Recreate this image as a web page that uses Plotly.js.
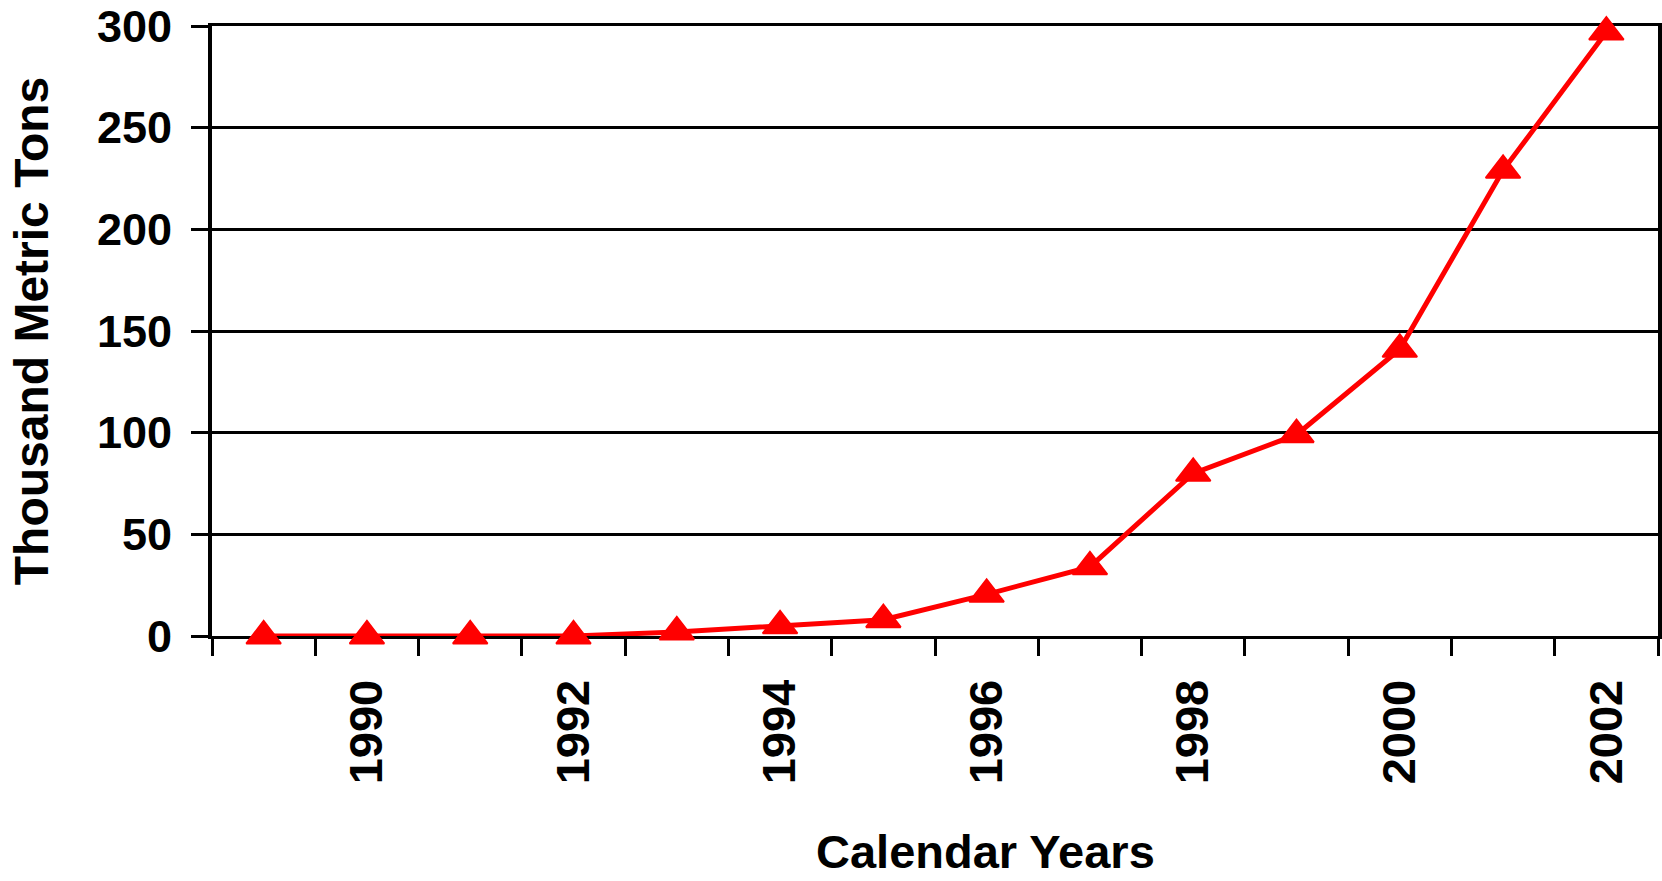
<!DOCTYPE html>
<html>
<head>
<meta charset="utf-8">
<script src="https://cdn.plot.ly/plotly-3.0.1.min.js"></script>
<style>html,body{margin:0;padding:0;background:#fff;}#chart{width:1662px;height:881px;}</style>
</head>
<body>
<div id="chart"></div>
<script>
// Data
const years = [1989, 1990, 1991, 1992, 1993, 1994, 1995, 1996, 1997, 1998, 1999, 2000, 2001, 2002];
const tons = [0, 0, 0, 0, 2, 5, 8, 20.5, 34, 80, 99, 141, 229, 297];
const labelYears = [1990, 1992, 1994, 1996, 1998, 2000, 2002];
const labelText = labelYears.map(String);
const yTicks = [0, 50, 100, 150, 200, 250, 300];
const xTitle = 'Calendar Years';
const yTitle = 'Thousand Metric Tons';

const boundaries = years.map(y => y - 0.5).concat([years[years.length - 1] + 0.5]);
const FONT = 'Liberation Sans, Arial, sans-serif';

const trace = {
  x: years,
  y: tons,
  type: 'scatter',
  mode: 'lines+markers',
  cliponaxis: false,
  line: {color: '#FF0000', width: 5},
  marker: {symbol: 'triangle-up', size: 30, color: '#FF0000', line: {color: '#FF0000', width: 2}},
  hoverinfo: 'x+y',
  showlegend: false
};

const layout = {
  width: 1662,
  height: 881,
  margin: {l: 212, r: 4, t: 26, b: 245},
  paper_bgcolor: '#ffffff',
  plot_bgcolor: '#ffffff',
  font: {family: FONT, color: '#000', size: 44},
  xaxis: {
    type: 'linear',
    range: [boundaries[0], boundaries[boundaries.length - 1]],
    tickmode: 'array',
    tickvals: labelYears,
    ticktext: labelText,
    ticks: '',
    tickangle: -90,
    tickfont: {family: FONT, size: 47, color: '#000', weight: 'bold'},
    ticklabelstandoff: 22,
    minor: {tickmode: 'array', tickvals: boundaries, ticks: 'outside', ticklen: 17, tickwidth: 3, tickcolor: '#000', showgrid: false},
    showgrid: false,
    zeroline: false,
    showline: true,
    linecolor: '#000',
    linewidth: 3,
    mirror: true,
    layer: 'below traces',
    automargin: false,
    fixedrange: true
  },
  yaxis: {
    range: [0, 300],
    tickmode: 'array',
    tickvals: yTicks,
    ticks: 'outside',
    ticklen: 17,
    tickwidth: 3,
    tickcolor: '#000',
    tickfont: {family: FONT, size: 45, color: '#000', weight: 'bold'},
    ticklabelstandoff: 10,
    showgrid: true,
    gridcolor: '#000',
    gridwidth: 3,
    zeroline: false,
    showline: true,
    linecolor: '#000',
    linewidth: 4,
    mirror: true,
    layer: 'below traces',
    automargin: false,
    fixedrange: true,
    title: {
      text: yTitle,
      font: {family: FONT, size: 48, color: '#000', weight: 'bold'},
      standoff: 34
    }
  },
  annotations: [{
    text: xTitle,
    xref: 'paper', yref: 'paper',
    x: 0.5346, y: -0.399,
    xanchor: 'center', yanchor: 'bottom',
    borderpad: 0,
    showarrow: false,
    font: {family: FONT, size: 47, color: '#000', weight: 'bold'}
  }]
};

Plotly.newPlot('chart', [trace], layout, {displayModeBar: false, staticPlot: true});
</script>
</body>
</html>
